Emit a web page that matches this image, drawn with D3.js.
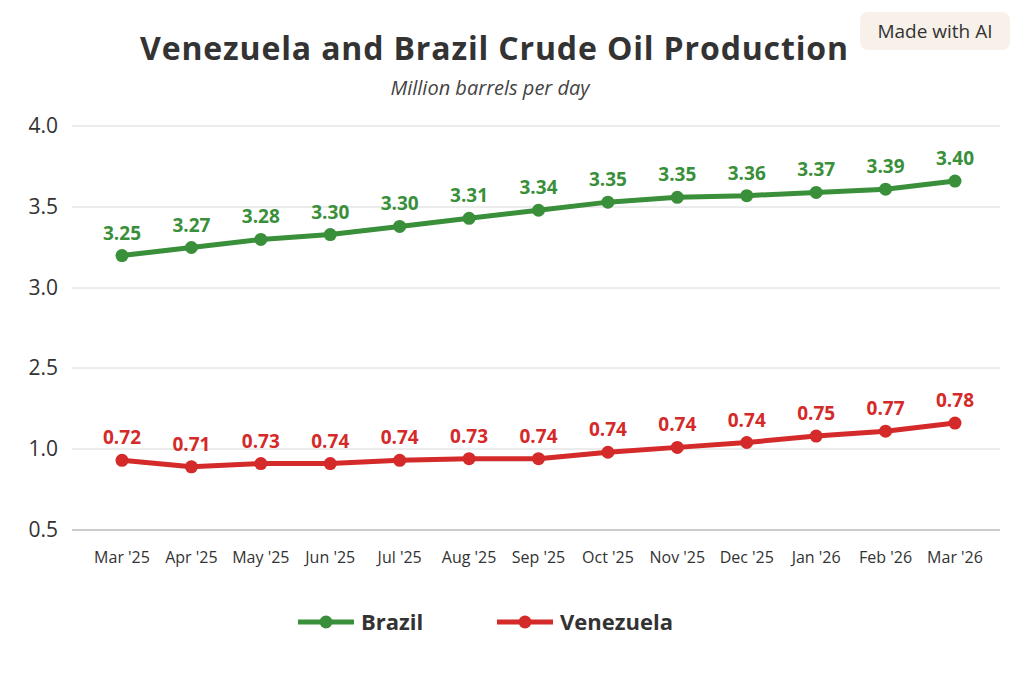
<!DOCTYPE html>
<html><head><meta charset="utf-8">
<script src="https://cdn.jsdelivr.net/npm/d3@7"></script>
<style>body{margin:0;background:#fff;font-family:"Open Sans",sans-serif}</style>
</head><body>
<svg id="c" width="1024" height="683"></svg>
<script>
// data (plotted positions and printed labels differ in the original)
var months = ["Mar '25","Apr '25","May '25","Jun '25","Jul '25","Aug '25","Sep '25","Oct '25","Nov '25","Dec '25","Jan '26","Feb '26","Mar '26"];
var brazilVals = [3.20,3.25,3.30,3.33,3.38,3.43,3.48,3.53,3.56,3.57,3.59,3.61,3.66];
var brazilLabels = ["3.25","3.27","3.28","3.30","3.30","3.31","3.34","3.35","3.35","3.36","3.37","3.39","3.40"];
var venVals = [0.93,0.89,0.91,0.91,0.93,0.94,0.94,0.98,1.01,1.04,1.08,1.11,1.16];
var venLabels = ["0.72","0.71","0.73","0.74","0.74","0.73","0.74","0.74","0.74","0.74","0.75","0.77","0.78"];
// broken axis: the third gridline sits at 1.5 but is printed "2.5"
var yTicks = [0.5,1.0,1.5,3.0,3.5,4.0];
var yTickLabels = ["0.5","1.0","2.5","3.0","3.5","4.0"];

var svg = d3.select("#c");
var x = d3.scalePoint().domain(months).range([122,955]);
var y = d3.scaleLinear().domain([0.5,1.5,3.0,4.0]).range([530,368,288,126]);

svg.append("text").attr("x",494).attr("y",60).attr("text-anchor","middle")
  .attr("font-size",32).attr("font-weight","bold").attr("fill","#333").attr("textLength",708).text("Venezuela and Brazil Crude Oil Production");
svg.append("text").attr("x",490).attr("y",95).attr("text-anchor","middle")
  .attr("font-size",20).attr("font-style","italic").attr("fill","#444").text("Million barrels per day");

svg.append("rect").attr("x",860).attr("y",12).attr("width",150).attr("height",38).attr("rx",8).attr("fill","#f7f1ea");
svg.append("text").attr("x",935).attr("y",38).attr("text-anchor","middle").attr("font-size",19).attr("fill","#333").text("Made with AI");

var grid = svg.append("g");
yTicks.forEach(function(t,i){
  grid.append("line").attr("x1",72).attr("x2",1000).attr("y1",y(t)).attr("y2",y(t))
    .attr("stroke",i===0?"#999":"#d8d8d8").attr("stroke-width",1);
  grid.append("text").attr("x",58).attr("y",y(t)+7).attr("text-anchor","end")
    .attr("font-size",21).attr("fill","#333").text(yTickLabels[i]);
});
months.forEach(function(m){
  svg.append("text").attr("x",x(m)).attr("y",563).attr("text-anchor","middle")
    .attr("font-size",16).attr("fill","#333").text(m);
});

function series(vals, labels, color){
  var pts = months.map(function(m,i){return [x(m), y(vals[i])];});
  svg.append("path").attr("d",d3.line()(pts)).attr("fill","none").attr("stroke",color).attr("stroke-width",5).attr("stroke-linejoin","round");
  pts.forEach(function(p,i){
    svg.append("circle").attr("cx",p[0]).attr("cy",p[1]).attr("r",6.5).attr("fill",color);
    svg.append("text").attr("x",p[0]).attr("y",p[1]-16).attr("text-anchor","middle")
      .attr("font-size",19).attr("font-weight","bold").attr("fill",color).text(labels[i]);
  });
}
series(brazilVals, brazilLabels, "#3a8f3a");
series(venVals, venLabels, "#d42a2a");

[["Brazil","#3a8f3a",298],["Venezuela","#d42a2a",497]].forEach(function(l){
  svg.append("line").attr("x1",l[2]).attr("x2",l[2]+56).attr("y1",622).attr("y2",622).attr("stroke",l[1]).attr("stroke-width",5);
  svg.append("circle").attr("cx",l[2]+28).attr("cy",622).attr("r",6.5).attr("fill",l[1]);
  svg.append("text").attr("x",l[2]+63).attr("y",630).attr("font-size",22).attr("font-weight","bold").attr("fill","#333").text(l[0]);
});
</script>
</body></html>
